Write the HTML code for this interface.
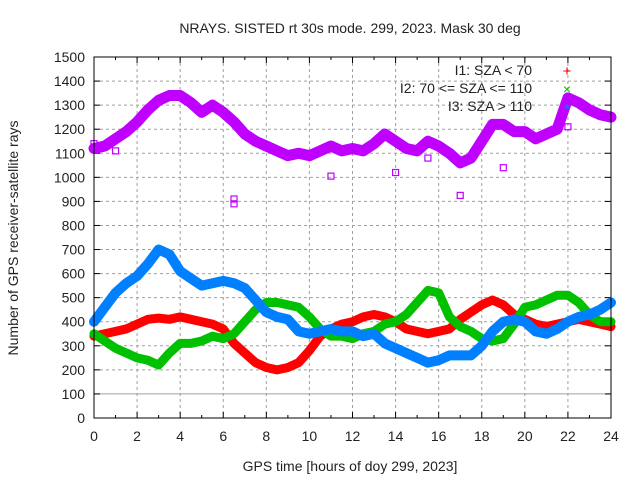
<!DOCTYPE html>
<html><head><meta charset="utf-8"><style>
body{margin:0;background:#fff}
svg text{font-family:"Liberation Sans",sans-serif;font-size:14px;fill:#222}
</style></head><body>
<svg id="chart" width="640" height="480" xmlns="http://www.w3.org/2000/svg">
<g id="grid"></g>
<g id="axes"></g>
<g id="series"></g>
<rect x="94" y="57" width="517" height="361" fill="none" stroke="#000" stroke-width="1"/>
<text x="350" y="33" text-anchor="middle">NRAYS. SISTED rt 30s mode. 299, 2023. Mask 30 deg</text>
<text x="350" y="471" text-anchor="middle">GPS time [hours of doy 299, 2023]</text>
<text transform="translate(18,238) rotate(-90)" text-anchor="middle">Number of GPS receiver-satellite rays</text>
<g>
<text x="532" y="75" text-anchor="end">I1: SZA &lt; 70</text>
<text x="532" y="93" text-anchor="end">I2: 70 &lt;= SZA &lt;= 110</text>
<text x="532" y="111" text-anchor="end">I3: SZA &gt; 110</text>
<text x="567" y="76" text-anchor="middle" style="fill:#f00;font-size:15px">+</text>
<text x="567" y="94" text-anchor="middle" style="fill:#00c000;font-size:14px">×</text>
<text x="567" y="114" text-anchor="middle" style="fill:#0080ff;font-size:15px">*</text>
</g>
</svg>
<script>
const hours=[0,0.5,1,1.5,2,2.5,3,3.5,4,4.5,5,5.5,6,6.5,7,7.5,8,8.5,9,9.5,10,10.5,11,11.5,12,12.5,13,13.5,14,14.5,15,15.5,16,16.5,17,17.5,18,18.5,19,19.5,20,20.5,21,21.5,22,22.5,23,23.5,24];
const total=[1120,1130,1160,1190,1230,1280,1320,1340,1340,1310,1270,1300,1270,1230,1180,1150,1130,1110,1090,1100,1090,1110,1130,1110,1120,1110,1140,1180,1150,1120,1110,1150,1130,1100,1060,1080,1150,1220,1220,1190,1190,1160,1180,1200,1330,1310,1280,1260,1250];
const i3=[400,460,520,560,590,640,700,680,610,580,550,560,570,560,540,490,440,420,410,360,350,360,370,360,360,340,350,310,290,270,250,230,240,260,260,260,300,360,400,410,400,360,350,370,400,420,430,450,480];
const i1=[340,350,360,370,390,410,415,410,420,410,400,390,370,310,270,230,210,200,210,230,280,340,370,390,400,420,430,420,400,370,360,350,360,370,410,440,470,490,470,430,410,390,380,390,400,410,400,390,380];
const i2=[350,320,290,270,250,240,220,270,310,310,320,340,330,350,400,450,480,480,470,460,420,370,340,340,330,350,360,390,400,430,480,530,520,420,380,360,330,320,330,390,460,470,490,510,510,480,430,400,400];
const outlierHours=[0,1,6.5,6.5,11,14,15.5,17,19,22];
const outlierTotal=[1140,1110,910,890,1005,1020,1080,925,1040,1210];
const xTicks=[0,2,4,6,8,10,12,14,16,18,20,22,24];
const yTicks=[0,100,200,300,400,500,600,700,800,900,1000,1100,1200,1300,1400,1500];
const NS='http://www.w3.org/2000/svg';
const X=h=>94+h/24*517, Y=v=>418-v/1500*361;
function mk(tag,attrs,parent){const e=document.createElementNS(NS,tag);for(const k in attrs)e.setAttribute(k,attrs[k]);parent.appendChild(e);return e;}
const grid=document.getElementById('grid'),axes=document.getElementById('axes'),ser=document.getElementById('series');
xTicks.forEach(t=>{
 if(t>0&&t<24){const l=mk('line',{x1:X(t),x2:X(t),y1:57,y2:418,stroke:'#a0a0a0','stroke-dasharray':'3,3'},grid);
 
 }
 const tx=mk('text',{x:X(t),y:441,'text-anchor':'middle'},axes);tx.textContent=t;
 
 
 mk('line',{x1:X(t),x2:X(t),y1:418,y2:412,stroke:'#000'},axes);mk('line',{x1:X(t),x2:X(t),y1:57,y2:63,stroke:'#000'},axes);
 if(t<24){mk('line',{x1:X(t+1),x2:X(t+1),y1:418,y2:415,stroke:'#000'},axes);mk('line',{x1:X(t+1),x2:X(t+1),y1:57,y2:60,stroke:'#000'},axes);}
});
yTicks.forEach(t=>{
 if(t>0&&t<1500){const l=mk('line',{x1:94,x2:611,y1:Y(t),y2:Y(t),stroke:t==100?'#a0a0a0':'#a0a0a0','stroke-dasharray':t==100?'none':'3,3'},grid);
 
 }
 const tx=mk('text',{x:85,y:Y(t)+5,'text-anchor':'end'},axes);tx.textContent=t;
 
 
 mk('line',{x1:94,x2:100,y1:Y(t),y2:Y(t),stroke:'#000'},axes);mk('line',{x1:611,x2:605,y1:Y(t),y2:Y(t),stroke:'#000'},axes);
});
function series(vals,color,w,name){
 const p=mk('polyline',{points:hours.map((h,i)=>X(h)+','+Y(vals[i])).join(' '),fill:'none',stroke:color,'stroke-width':w,'stroke-linejoin':'round','stroke-linecap':'round'},ser);
 
 
}
series(i1,'#ff0000',9,'series-i1');
series(i2,'#00c000',9,'series-i2');
series(i3,'#0080ff',10,'series-i3');
series(total,'#c000ff',11,'series-total');
outlierHours.forEach((h,i)=>{
 const r=mk('rect',{x:X(h)-3,y:Y(outlierTotal[i])-3,width:6,height:6,fill:'none',stroke:'#c000ff','stroke-width':1.2},ser);
 
 
});
</script>
</body></html>
